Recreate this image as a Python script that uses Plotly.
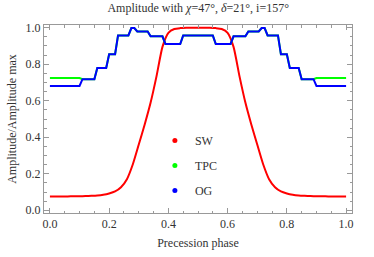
import plotly.graph_objects as go

# Precession phase sample points for SW curve
sw_phase = [0.00, 0.02, 0.04, 0.06, 0.08, 0.10, 0.12, 0.14, 0.16, 0.18,
            0.20, 0.22, 0.24, 0.26, 0.28, 0.30, 0.32, 0.34, 0.36, 0.38,
            0.40, 0.42, 0.44, 0.46, 0.48, 0.50, 0.52, 0.54, 0.56, 0.58,
            0.60, 0.62, 0.64, 0.66, 0.68, 0.70, 0.72, 0.74, 0.76, 0.78,
            0.80, 0.82, 0.84, 0.86, 0.88, 0.90, 0.92, 0.94, 0.96, 0.98, 1.00]
sw_amp = [0.076, 0.076, 0.076, 0.076, 0.077, 0.077, 0.078, 0.079, 0.081, 0.085,
          0.092, 0.103, 0.126, 0.170, 0.252, 0.360, 0.470, 0.590, 0.735, 0.895,
          0.972, 0.993, 0.998, 1.000, 1.000, 1.000, 1.000, 1.000, 0.998, 0.993,
          0.972, 0.895, 0.735, 0.590, 0.470, 0.360, 0.252, 0.170, 0.126, 0.103,
          0.092, 0.085, 0.081, 0.079, 0.078, 0.077, 0.077, 0.076, 0.076, 0.076, 0.076]

# Step-like curves (vertices)
og_phase = [0.00, 0.10, 0.11, 0.15, 0.16, 0.19, 0.20, 0.22, 0.23, 0.265,
            0.275, 0.285, 0.295, 0.33, 0.34, 0.38, 0.39, 0.44, 0.45, 0.55,
            0.56, 0.61, 0.62, 0.66, 0.67, 0.705, 0.715, 0.725, 0.735, 0.77,
            0.78, 0.80, 0.81, 0.84, 0.85, 0.89, 0.90, 1.00]
og_amp = [0.681, 0.681, 0.718, 0.718, 0.779, 0.779, 0.855, 0.855, 0.958, 0.958,
          0.998, 0.998, 0.980, 0.980, 0.953, 0.953, 0.911, 0.911, 0.958, 0.958,
          0.911, 0.911, 0.953, 0.953, 0.980, 0.980, 0.998, 0.998, 0.958, 0.958,
          0.855, 0.855, 0.779, 0.779, 0.718, 0.718, 0.681, 0.681]
tpc_amp = [0.724, 0.724, 0.718, 0.718, 0.779, 0.779, 0.855, 0.855, 0.958, 0.958,
           0.998, 0.998, 0.980, 0.980, 0.953, 0.953, 0.911, 0.911, 0.958, 0.958,
           0.911, 0.911, 0.953, 0.953, 0.980, 0.980, 0.998, 0.998, 0.958, 0.958,
           0.855, 0.855, 0.779, 0.779, 0.718, 0.718, 0.724, 0.724]

tick_vals = [0.0, 0.2, 0.4, 0.6, 0.8, 1.0]
tick_text = ["0.0", "0.2", "0.4", "0.6", "0.8", "1.0"]

RED, GREEN, BLUE = "rgb(255,0,0)", "rgb(0,255,0)", "rgb(0,0,255)"
FONT = "'Liberation Serif', 'Times New Roman', serif"

fig = go.Figure()
fig.add_trace(go.Scatter(x=sw_phase, y=sw_amp, mode="lines", showlegend=False,
                         line=dict(color=RED, width=2, shape="spline", smoothing=0.6)))
fig.add_trace(go.Scatter(x=og_phase, y=tpc_amp, mode="lines", showlegend=False,
                         line=dict(color=GREEN, width=2)))
fig.add_trace(go.Scatter(x=og_phase, y=og_amp, mode="lines", showlegend=False,
                         line=dict(color=BLUE, width=2)))

for name, col in [("SW", RED), ("TPC", GREEN), ("OG", BLUE)]:
    fig.add_trace(go.Scatter(x=[None], y=[None], mode="markers", name=name,
                             legendgroup=name,
                             marker=dict(color=col, size=5)))

axis_common = dict(
    showline=True, linecolor="#999", linewidth=1, mirror="ticks",
    ticks="inside", ticklen=5, tickcolor="#999", tickwidth=1,
    showgrid=False, zeroline=False, automargin=False,
    tickvals=tick_vals, ticktext=tick_text,
    tickfont=dict(family=FONT, size=12, color="#333"),
    minor=dict(dtick=0.05, ticks="inside", ticklen=2.5, tickcolor="#999", showgrid=False),
)

fig.update_layout(
    width=374, height=257,
    margin=dict(l=44, r=22, t=25, b=44),
    paper_bgcolor="white", plot_bgcolor="white",
    title=dict(text="Amplitude with <i>χ</i>=47°, <i>δ</i>=21°, i=157°",
               x=0.53, xanchor="center", y=0.968, yanchor="middle",
               font=dict(family=FONT, size=12, color="#333")),
    xaxis=dict(range=[-0.02, 1.02], **axis_common,
               title=dict(text="Precession phase", standoff=8,
                          font=dict(family=FONT, size=12, color="#333"))),
    yaxis=dict(range=[-0.015, 1.015], **axis_common,
               title=dict(text="Amplitude/Amplitude max", standoff=6,
                          font=dict(family=FONT, size=12, color="#333"))),
    legend=dict(x=0.36, y=0.463, xanchor="left", yanchor="top",
                bgcolor="rgba(0,0,0,0)", traceorder="grouped", tracegroupgap=6,
                font=dict(family=FONT, size=12, color="#333")),
)

fig.write_html("out.html", config={"displayModeBar": False},
               post_script="document.body.style.margin='0';document.body.style.overflow='hidden';")
